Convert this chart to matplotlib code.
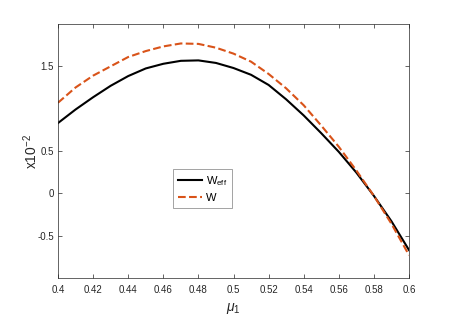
import matplotlib
matplotlib.use("Agg")
import matplotlib.pyplot as plt

# values (y in units of 1e-2)
mu1 = [0.40, 0.41, 0.42, 0.43, 0.44, 0.45, 0.46, 0.47, 0.48, 0.49, 0.50,
       0.51, 0.52, 0.53, 0.54, 0.55, 0.56, 0.57, 0.58, 0.59, 0.60]
w_eff = [0.83, 0.99, 1.135, 1.27, 1.385, 1.475, 1.53, 1.565, 1.57, 1.54, 1.48,
         1.40, 1.28, 1.11, 0.92, 0.71, 0.49, 0.245, -0.03, -0.33, -0.67]
w = [1.07, 1.25, 1.39, 1.50, 1.61, 1.68, 1.735, 1.77, 1.765, 1.72, 1.65,
     1.555, 1.41, 1.24, 1.04, 0.80, 0.55, 0.27, -0.03, -0.36, -0.73]

xticks = [0.40, 0.42, 0.44, 0.46, 0.48, 0.50, 0.52, 0.54, 0.56, 0.58, 0.60]
xticklabels = ["0.4", "0.42", "0.44", "0.46", "0.48", "0.5",
               "0.52", "0.54", "0.56", "0.58", "0.6"]
yticks = [-0.5, 0, 0.5, 1.5]
yticklabels = ["-0.5", "0", "0.5", "1.5"]

plt.rcParams['font.family'] = ['Liberation Sans', 'DejaVu Sans']
plt.rcParams['mathtext.fontset'] = 'custom'
plt.rcParams['mathtext.rm'] = 'Liberation Sans'
plt.rcParams['mathtext.it'] = 'Liberation Sans:italic'
plt.rcParams['mathtext.default'] = 'regular'

axc = '#262626'

fig = plt.figure(figsize=(4.52, 3.22), dpi=100)
ax = fig.add_axes([0.1283, 0.1366, 0.7766, 0.7889])

ax.plot(mu1, w_eff, color='black', lw=1.5, label='$W_{eff}$')
ax.plot(mu1, w, color='#D95319', lw=1.5, ls='--', label='W')

ax.set_xlim(0.4, 0.6)
ax.set_ylim(-1, 2)
ax.set_xticks(xticks)
ax.set_xticklabels(xticklabels)
ax.set_yticks(yticks)
ax.set_yticklabels(yticklabels)

ax.tick_params(axis='both', direction='in', length=3, width=0.5,
               colors=axc, labelsize=7, top=True, right=True)
ax.tick_params(axis='x', pad=5)
ax.tick_params(axis='y', pad=3)
for s in ax.spines.values():
    s.set_color(axc)
    s.set_linewidth(0.5)

ax.set_xlabel(r'$\mathit{\mu}_1$', fontsize=10, color=axc, labelpad=4)
ax.set_ylabel('x10$^{-2}$', fontsize=10, color=axc, labelpad=-2)

leg = ax.legend(loc='upper left', bbox_to_anchor=(0.3276, 0.429),
                fontsize=8, fancybox=False, framealpha=1, edgecolor='#7f7f7f',
                handlelength=2.2, handletextpad=0.3, borderpad=0.45,
                labelspacing=0.45, borderaxespad=0)
leg.get_frame().set_linewidth(0.5)

fig.savefig('out.png', dpi=100)
